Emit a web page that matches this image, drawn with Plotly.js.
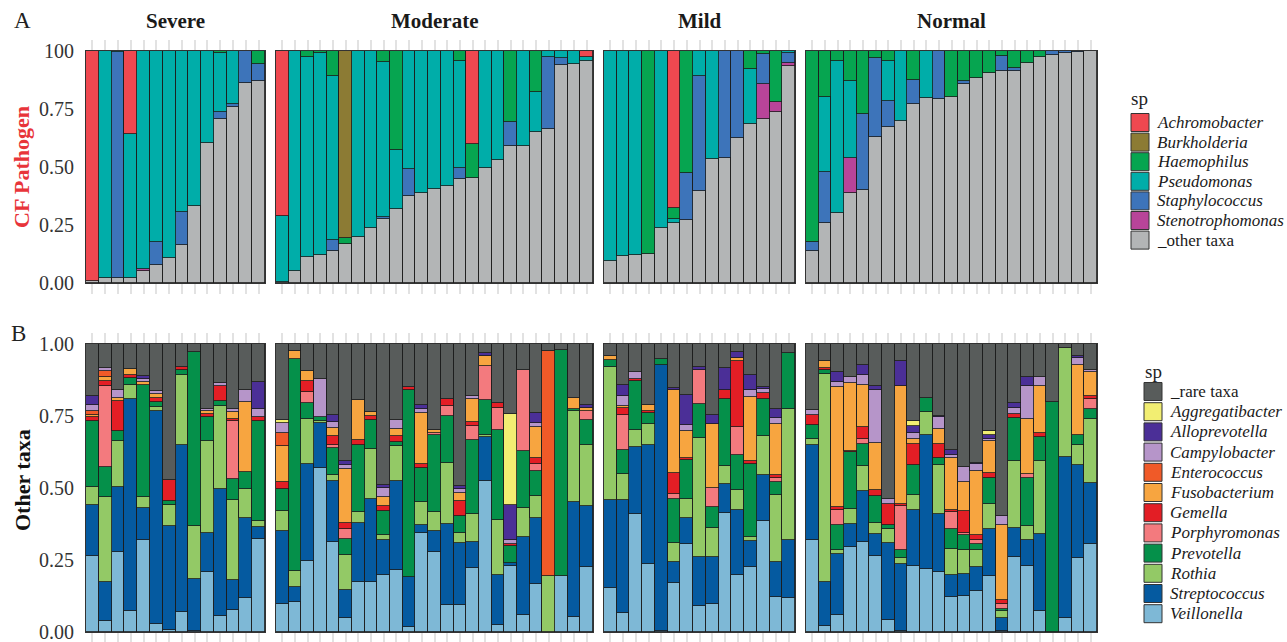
<!DOCTYPE html>
<html>
<head>
<meta charset="utf-8">
<script src="https://cdn.plot.ly/plotly-3.0.1.min.js"></script>
<style>html,body{margin:0;padding:0;background:#fff}#chart{width:1287px;height:642px}</style>
</head>
<body>
<div id="chart"></div>
<script>
// ---------- facets ----------
const facetNames = ["Severe", "Moderate", "Mild", "Normal"];
const facetSizes = [14, 25, 15, 23];

// ---------- panel A: CF pathogens (bars ordered Severe | Moderate | Mild | Normal) ----------
const pathOther = [.01,.02,.02,.02,.053,.076,.106,.165,.333,.602,.708,.76,.861,.869,
  .005,.053,.114,.12,.139,.168,.2,.236,.274,.318,.376,.386,.405,.418,.448,.454,.494,.53,.59,.592,.649,.664,.94,.944,.958,
  .096,.116,.121,.124,.236,.257,.272,.397,.533,.54,.626,.684,.708,.738,.935,
  .139,.257,.303,.389,.401,.631,.671,.698,.77,.796,.792,.803,.856,.885,.904,.914,.914,.95,.976,.983,.99,.995,1.0];
const pathSteno = [0,0,0,0,.009,0,0,0,0,0,0,0,0,0,
  0,0,0,0,0,0,0,0,0,0,0,0,0,0,0,0,0,0,0,0,0,0,0,0,0,
  0,0,0,0,0,0,0,0,0,0,0,0,.15,.044,.015,
  0,0,0,.148,0,0,0,0,0,0,0,0,0,0,0,0,0,0,0,0,0,0,0];
const pathStaph = [0,0,.975,0,0,.101,0,.142,0,0,.028,.01,.139,.075,
  0,0,0,0,.046,0,0,0,.009,0,.114,0,0,0,.046,0,0,0,.103,0,0,.312,.028,0,0,
  0,0,0,0,0,0,.204,.495,0,.46,.374,0,.128,0,.04,
  .039,.223,0,0,.327,.337,.113,0,.105,0,.208,0,.014,0,0,.066,.011,0,0,.017,.01,.005,0];
const pathPseudo = [0,.98,.005,.622,.938,.823,.894,.693,.667,.398,.254,.23,0,0,
  .285,.947,.862,.873,.707,0,.8,.764,.67,.255,.51,.614,.595,.582,.461,0,.506,.47,0,.408,.176,.024,.032,.056,.018,
  .904,.884,.879,0,.764,.017,0,.108,.467,0,0,.238,0,0,.01,
  0,.32,.654,.335,0,0,.173,.302,0,.204,0,0,0,0,0,0,0,0,0,0,0,0,0];
const pathHaemo = [0,0,0,0,0,0,0,0,0,0,.01,0,0,.056,
  0,0,.024,.007,.108,.027,0,0,.047,.427,0,0,0,0,.045,.146,0,0,.307,0,.175,0,0,0,0,
  0,0,0,.876,0,.048,.524,0,0,0,0,.078,.014,.218,0,
  .822,.2,.043,.128,.272,.032,.043,0,.125,0,0,.197,.13,.115,.096,.02,.075,.05,.024,0,0,0,0];
const pathBurk = [0,0,0,0,0,0,0,0,0,0,0,0,0,0,
  0,0,0,0,0,.805,0,0,0,0,0,0,0,0,0,0,0,0,0,0,0,0,0,0,0,
  0,0,0,0,0,0,0,0,0,0,0,0,0,0,0,
  0,0,0,0,0,0,0,0,0,0,0,0,0,0,0,0,0,0,0,0,0,0,0];
const pathAchro = [.99,0,0,.358,0,0,0,0,0,0,0,0,0,0,
  .71,0,0,0,0,0,0,0,0,0,0,0,0,0,0,.4,0,0,0,0,0,0,0,0,.024,
  0,0,0,0,0,.678,0,0,0,0,0,0,0,0,0,
  0,0,0,0,0,0,0,0,0,0,0,0,0,0,0,0,0,0,0,0,0,0,0];

// ---------- panel B: other taxa ----------
const veillonella = [.265,.037,.278,.074,.318,.029,.006,.068,.002,.207,.054,.078,.118,.323,
  .098,.103,.248,.569,.311,.049,.172,.174,.199,.216,.017,.344,.277,.095,.095,.222,.523,.025,.228,.058,.167,0,.196,.051,.225,
  .153,.065,.41,.236,.002,.17,.306,.089,.097,.413,.199,.226,.387,.122,.118,
  .318,.022,.058,.295,.311,.265,.041,.003,.228,.219,.207,.12,.124,.141,.193,.005,.26,.23,.074,0,.049,.257,.306];
const streptococcus = [.177,.135,.225,.735,.113,.74,.361,.58,.183,.137,.443,.101,.278,.04,
  .252,.052,.335,.157,.212,.098,.206,.288,.122,.307,.174,.026,.073,.28,.214,.089,.153,.172,.012,.271,.229,0,0,.399,.214,
  .304,.394,.232,.412,.924,.072,.09,.171,.163,.102,.223,.091,.159,.12,.2,
  .33,.152,.213,.081,.177,.075,.268,.233,.194,.464,.203,.077,.077,.084,.165,.044,.101,.091,.267,0,.557,.324,.211];
const rothia = [.06,.296,.159,.05,.037,.011,.075,.243,.184,.318,.289,.278,.102,.021,
  .069,.058,.157,.006,.023,.122,.038,.173,.017,.124,0,.081,.067,.212,.035,.1,.007,.193,0,.102,.075,.193,0,.319,.211,
  .462,.09,.061,.074,0,.067,.066,.414,.101,.06,.072,.013,.133,.235,.456,
  .023,.722,.015,.051,.087,.038,.049,.021,.055,.081,.169,.092,.085,.061,.088,.023,.234,.046,.254,0,.38,.069,.223];
const prevotella = [.229,.104,.037,.023,.388,.017,.012,.018,.603,.083,.017,.075,.058,.35,
  .078,.735,.055,.014,.093,.055,.234,.102,.081,.012,.65,.118,.268,.162,.058,.255,.124,.313,.057,.196,.087,0,.784,.006,.087,
  .027,.082,.167,.038,.022,.153,.134,.118,.073,.234,.122,.253,.13,.044,.195,
  .049,.015,.087,.198,.078,.093,.015,.029,.102,.049,.025,.069,.05,.02,.089,.009,.148,.168,.081,.797,0,.033,.034];
const porphyromonas = [0,.283,0,0,0,0,0,0,0,0,0,.202,0,0,
  0,0,.037,0,.01,.035,0,0,0,0,0,0,.007,.037,0,.048,.115,.075,0,.284,.025,0,0,0,.032,
  0,.124,0,0,0,.018,0,.119,.066,0,.095,0,0,.014,0,
  0,0,.052,0,.017,0,0,.15,0,0,0,.059,.008,.015,0,.017,0,.014,0,0,0,0,.035];
const gemella = [.014,.015,.102,.012,0,.015,.075,.01,0,.012,.052,.005,0,.012,
  .024,0,.038,0,.03,.019,.018,.014,.02,.02,.008,.015,0,.023,.052,.014,0,.017,.008,0,.021,0,0,0,0,
  0,.023,.007,.006,0,.072,.008,0,0,.03,.229,.01,.021,.011,0,
  .035,.006,.008,.005,.041,.023,.073,.01,.074,0,.049,.008,.077,.015,.017,.014,.014,0,.015,0,0,0,.012];
const fusobacterium = [.008,.015,.012,.018,.012,.014,0,0,0,.011,0,.026,.241,0,
  .124,.027,.037,0,.029,.189,.139,.014,.03,.027,0,.176,.008,0,.029,.081,.035,0,0,0,.107,0,0,.037,.01,
  .011,.008,0,.023,0,.289,.093,0,.223,0,.011,.222,0,.176,0,
  0,.025,.417,.235,.145,.162,0,.409,.018,0,.053,.179,.1,.224,.112,.258,0,.192,.162,0,0,.245,.081];
const enterococcus = [.016,.02,0,0,0,0,0,0,0,0,0,0,0,0,
  .046,0,0,0,0,0,0,0,0,0,0,0,0,0,0,0,0,0,0,0,0,.784,0,0,0,
  0,0,0,0,0,0,0,0,0,0,0,0,0,0,0,
  0,0,0,0,0,0,0,0,0,0,0,0,0,0,0,0,0,0,0,0,0,0,0];
const campylobacter = [.02,.01,.027,0,.01,.01,0,0,0,.008,.01,.01,.043,.028,
  .035,0,0,.133,.022,.013,0,0,.031,.031,0,.013,0,0,.012,.011,0,0,.015,0,.014,0,0,0,0,
  0,.035,.026,0,0,0,.021,0,0,0,0,.026,.015,.021,0,
  .017,0,.017,.019,.038,.185,.016,0,.02,0,.039,.012,.051,.023,.007,.032,.021,.114,.032,0,0,.023,.009];
const alloprevotella = [.032,0,0,0,.012,0,0,0,0,0,0,0,0,.094,
  0,0,0,0,.022,.013,0,0,.012,0,0,.014,0,0,.011,0,.013,0,.12,0,.034,0,0,0,.008,
  0,.038,0,0,0,.006,.104,.008,.029,.078,.02,.053,.005,.031,0,
  0,0,.035,0,.032,.014,0,.087,.023,0,.006,.017,0,.005,.012,0,.017,.03,0,0,0,.006,0];
const aggregatibacter = [0,0,0,0,0,0,0,0,0,0,0,0,0,0,
  .011,0,0,0,0,0,0,0,0,0,0,0,0,0,0,0,0,0,.318,0,0,0,0,0,0,
  0,0,0,0,0,0,0,0,0,0,0,0,0,0,0,
  0,0,0,0,0,0,0,0,.017,0,0,0,0,0,.014,0,0,0,0,0,0,0,0];
const rareTaxa = [.179,.085,.16,.088,.11,.164,.471,.081,.028,.224,.135,.225,.16,.132,
  .263,.025,.093,.121,.248,.407,.193,.235,.488,.263,.151,.213,.30,.191,.494,.18,.03,.205,.242,.089,.241,.023,.02,.188,.213,
  .043,.141,.097,.211,.052,.153,.178,.081,.248,.083,.029,.106,.15,.226,.031,
  .228,.058,.098,.116,.074,.145,.538,.058,.269,.187,.249,.367,.428,.412,.303,.598,.205,.115,.115,.203,.014,.043,.089];

// series, bottom of stack first; legend labels and colours
const pathSeries = [
  {name: "_other taxa", vals: pathOther, color: "#B3B5B6", rank: 7},
  {name: "<i>Stenotrophomonas</i>", vals: pathSteno, color: "#B84499", rank: 6},
  {name: "<i>Staphylococcus</i>", vals: pathStaph, color: "#3D74BA", rank: 5},
  {name: "<i>Pseudomonas</i>", vals: pathPseudo, color: "#00ADA9", rank: 4},
  {name: "<i>Haemophilus</i>", vals: pathHaemo, color: "#06A550", rank: 3},
  {name: "<i>Burkholderia</i>", vals: pathBurk, color: "#8C7B34", rank: 2},
  {name: "<i>Achromobacter</i>", vals: pathAchro, color: "#EF4850", rank: 1}
];
const taxaSeries = [
  {name: "<i>Veillonella</i>", vals: veillonella, color: "#7EB8D6", rank: 12},
  {name: "<i>Streptococcus</i>", vals: streptococcus, color: "#055AA0", rank: 11},
  {name: "<i>Rothia</i>", vals: rothia, color: "#93C966", rank: 10},
  {name: "<i>Prevotella</i>", vals: prevotella, color: "#05904A", rank: 9},
  {name: "<i>Porphyromonas</i>", vals: porphyromonas, color: "#F37A7E", rank: 8},
  {name: "<i>Gemella</i>", vals: gemella, color: "#E31E25", rank: 7},
  {name: "<i>Fusobacterium</i>", vals: fusobacterium, color: "#F7A540", rank: 6},
  {name: "<i>Enterococcus</i>", vals: enterococcus, color: "#F05A28", rank: 5},
  {name: "<i>Campylobacter</i>", vals: campylobacter, color: "#B695C9", rank: 4},
  {name: "<i>Alloprevotella</i>", vals: alloprevotella, color: "#4B2F97", rank: 3},
  {name: "<i>Aggregatibacter</i>", vals: aggregatibacter, color: "#F2EE72", rank: 2},
  {name: "_rare taxa", vals: rareTaxa, color: "#585C5B", rank: 1}
];

// ---------- layout geometry (pixels) ----------
const W = 1287, H = 642;
const facetPx = [[86, 265], [276, 593], [604, 795], [806, 1097]];
const rowPx = [[51, 283], [344, 632]];
const px = v => v / W;
const py = v => 1 - v / H;

const traces = [];
function addRow(series, rowIdx) {
  let start = 0;
  facetSizes.forEach((n, f) => {
    const ax = rowIdx * 4 + f + 1;
    const xs = Array.from({length: n}, (_, i) => i);
    series.forEach(s => {
      traces.push({
        type: "bar",
        x: xs,
        y: s.vals.slice(start, start + n),
        xaxis: "x" + (ax === 1 ? "" : ax),
        yaxis: "y" + (ax === 1 ? "" : ax),
        name: s.name,
        showlegend: false,
        width: 1,
        marker: {color: s.color, line: {color: "#1c1c1c", width: 0.8}},
        hoverinfo: "name+y"
      });
    });
    start += n;
  });
}
addRow(pathSeries, 0);
addRow(taxaSeries, 1);

const serif = "Liberation Serif, DejaVu Serif, serif";
const layout = {
  width: W, height: H,
  margin: {l: 0, r: 0, t: 0, b: 0, autoexpand: false},
  paper_bgcolor: "#fff", plot_bgcolor: "#fff",
  barmode: "stack", bargap: 0,
  font: {family: serif, color: "#222"},
  showlegend: false,
  annotations: [],
  shapes: [],
  hovermode: "closest"
};

for (let r = 0; r < 2; r++) {
  for (let f = 0; f < 4; f++) {
    const ax = r * 4 + f + 1;
    const xk = "xaxis" + (ax === 1 ? "" : ax);
    const yk = "yaxis" + (ax === 1 ? "" : ax);
    const xid = "x" + (ax === 1 ? "" : ax);
    const yid = "y" + (ax === 1 ? "" : ax);
    layout[xk] = {
      domain: [px(facetPx[f][0]), px(facetPx[f][1])],
      anchor: yid,
      range: [-0.5, facetSizes[f] - 0.5],
      tickmode: "linear", tick0: 0, dtick: 1,
      ticks: "outside", ticklen: 10, tickwidth: 2, tickcolor: "#E2E2E2",
      showticklabels: false,
      showline: true, linecolor: "#333", linewidth: 1, mirror: "ticks",
      showgrid: false, zeroline: false, fixedrange: true
    };
    const topLabel = r === 0 ? "100" : "1.00";
    layout[yk] = {
      domain: [py(rowPx[r][1]), py(rowPx[r][0])],
      anchor: xid,
      range: [0, 1],
      tickmode: "array",
      tickvals: [0, 0.25, 0.5, 0.75, 1],
      ticktext: ["0.00", "0.25", "0.50", "0.75", topLabel],
      showticklabels: f === 0,
      ticklabeloverflow: "allow",
      ticks: "outside", ticklen: 7, tickcolor: "rgba(0,0,0,0)",
      tickfont: {family: serif, size: 20, color: "#333"},
      showline: true, linecolor: "#333", linewidth: 1, mirror: true,
      showgrid: false, zeroline: false, fixedrange: true
    };
  }
}

// strip labels
facetNames.forEach((name, f) => {
  layout.annotations.push({
    text: "<b>" + name + "</b>", xref: "paper", yref: "paper",
    x: px((facetPx[f][0] + facetPx[f][1]) / 2), y: py(21),
    xanchor: "center", yanchor: "middle", showarrow: false,
    font: {family: serif, size: 21, color: "#1a1a1a"}
  });
});
// panel letters
layout.annotations.push({text: "A", xref: "paper", yref: "paper", x: px(22), y: py(21),
  xanchor: "center", yanchor: "middle", showarrow: false, font: {family: serif, size: 23, color: "#222"}});
layout.annotations.push({text: "B", xref: "paper", yref: "paper", x: px(18), y: py(334),
  xanchor: "center", yanchor: "middle", showarrow: false, font: {family: serif, size: 23, color: "#222"}});
// axis titles
layout.annotations.push({text: "<b>CF Pathogen</b>", xref: "paper", yref: "paper", x: px(22), y: py(167),
  xanchor: "center", yanchor: "middle", textangle: -90, showarrow: false,
  font: {family: serif, size: 22, color: "#E8343A"}});
layout.annotations.push({text: "<b>Other taxa</b>", xref: "paper", yref: "paper", x: px(22), y: py(480),
  xanchor: "center", yanchor: "middle", textangle: -90, showarrow: false,
  font: {family: serif, size: 22, color: "#111"}});

// legends (key boxes + labels), listed top to bottom
function addLegend(series, titleX, titleY, boxX, firstY, step, textX) {
  layout.annotations.push({text: "sp", xref: "paper", yref: "paper", x: px(titleX), y: py(titleY),
    xanchor: "left", yanchor: "middle", showarrow: false, font: {family: serif, size: 19, color: "#222"}});
  const ordered = series.slice().sort((a, b) => a.rank - b.rank);
  ordered.forEach((s, i) => {
    const cy = firstY + i * step;
    layout.shapes.push({type: "rect", xref: "paper", yref: "paper",
      x0: px(boxX), x1: px(boxX + 18), y0: py(cy - 9), y1: py(cy + 9),
      fillcolor: s.color, line: {color: "#333", width: 1}});
    layout.annotations.push({text: s.name, xref: "paper", yref: "paper", x: px(textX), y: py(cy),
      xanchor: "left", yanchor: "middle", showarrow: false,
      font: {family: serif, size: 17, color: "#1a1a1a"}});
  });
}
addLegend(pathSeries, 1129, 98, 1131, 122.5, 19.6, 1155);
addLegend(taxaSeries, 1143, 372, 1144, 391.5, 20.2, 1168);

Plotly.newPlot("chart", traces, layout, {displayModeBar: false});
</script>
</body>
</html>
